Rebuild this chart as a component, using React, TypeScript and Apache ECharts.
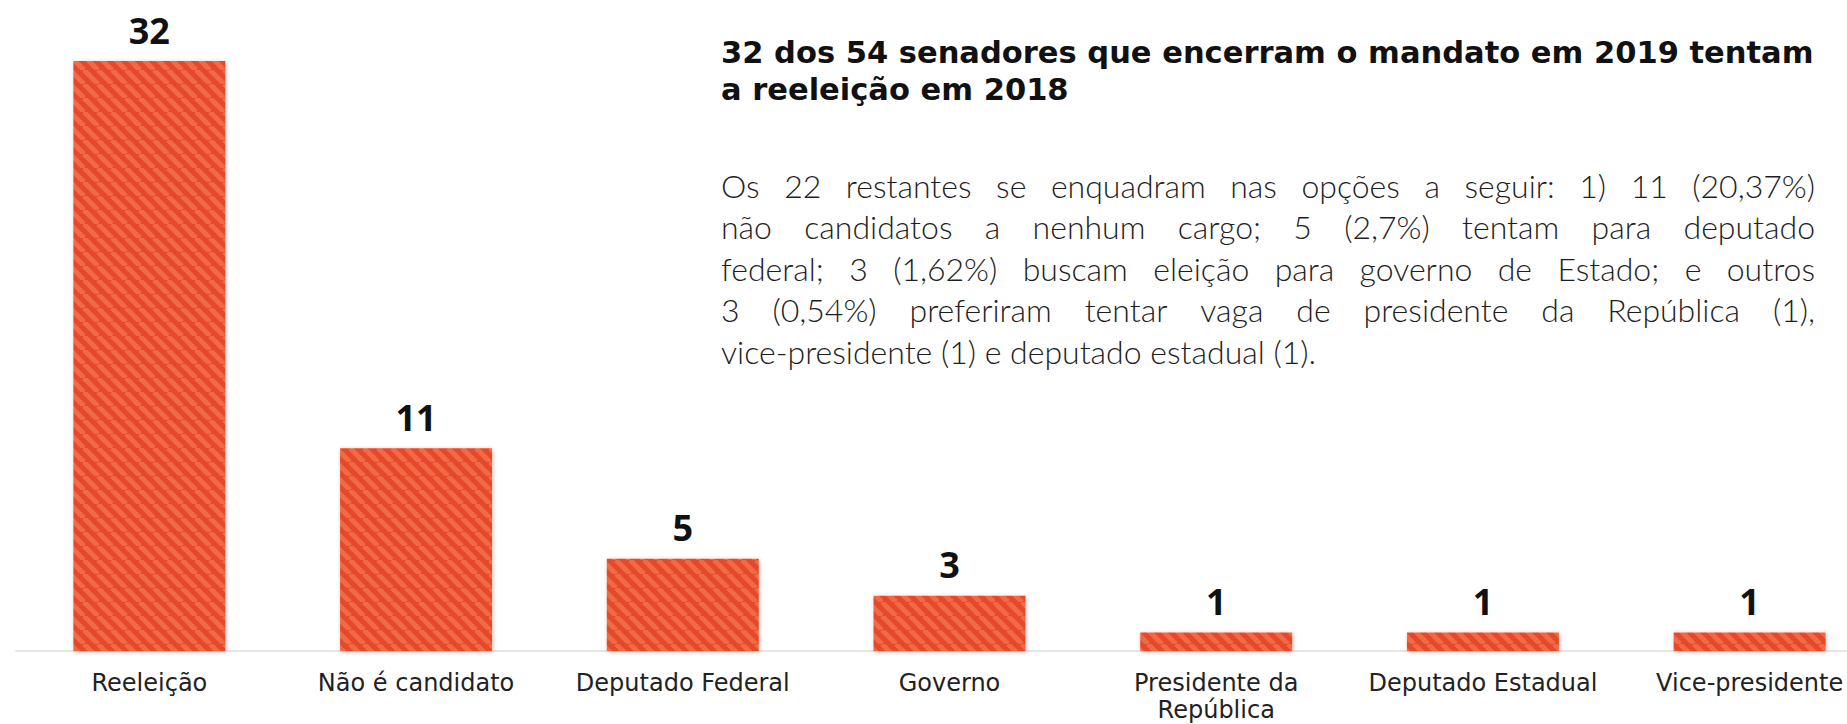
import React, { useEffect, useRef } from "react";
import * as echarts from "echarts";

const categories = [
  "Reeleição",
  "Não é candidato",
  "Deputado Federal",
  "Governo",
  "Presidente da\nRepública",
  "Deputado Estadual",
  "Vice-presidente",
];
const values = [32, 11, 5, 3, 1, 1, 1];

const titleLines = [
  "32 dos 54 senadores que encerram o mandato em 2019 tentam",
  "a reeleição em 2018",
];
const bodyLines = [
  "Os 22 restantes se enquadram nas opções a seguir: 1) 11 (20,37%)",
  "não candidatos a nenhum cargo; 5 (2,7%) tentam para deputado",
  "federal; 3 (1,62%) buscam eleição para governo de Estado; e outros",
  "3 (0,54%) preferiram tentar vaga de presidente da República (1),",
  "vice-presidente (1) e deputado estadual (1).",
];

const BODY_FAMILY = "Lato";
const BODY_WEIGHT = 300;
const TITLE_FAMILY = "DejaVu Sans";

function makeStripe(s: number): HTMLCanvasElement {
  const c = document.createElement("canvas");
  c.width = s;
  c.height = s;
  const ctx = c.getContext("2d")!;
  ctx.fillStyle = "#E54A29";
  ctx.fillRect(0, 0, s, s);
  ctx.strokeStyle = "#EE6A48";
  ctx.lineWidth = 5;
  for (let k = -1; k <= 1; k++) {
    ctx.beginPath();
    ctx.moveTo(k * s, 0);
    ctx.lineTo(k * s + s, s);
    ctx.stroke();
  }
  return c;
}

function measurer(font: string) {
  const c = document.createElement("canvas");
  const ctx = c.getContext("2d")!;
  ctx.font = font;
  return (t: string) => ctx.measureText(t).width;
}

function buildBody(): any[] {
  const left = 721;
  const W = 1094;
  const ys = [185, 226, 268, 309, 351];
  const base = 30;
  const m0 = measurer(`${BODY_WEIGHT} ${base}px "${BODY_FAMILY}"`);
  let size = (base * W) / m0(bodyLines[2]);
  size = Math.max(24, Math.min(32, size));
  const m = measurer(`${BODY_WEIGHT} ${size}px "${BODY_FAMILY}"`);
  const out: any[] = [];
  bodyLines.forEach((line, i) => {
    const words = line.split(" ");
    const widths = words.map((w) => m(w));
    const sum = widths.reduce((a, b) => a + b, 0);
    const last = i === bodyLines.length - 1;
    const gap = last ? m(" ") : (W - sum) / (words.length - 1);
    let x = left;
    words.forEach((w, j) => {
      out.push({
        type: "text",
        x,
        y: ys[i],
        silent: true,
        style: {
          text: w,
          fill: "#1e1e1e",
          fontFamily: BODY_FAMILY,
          fontSize: size,
          fontWeight: BODY_WEIGHT,
          lineHeight: 36,
          textAlign: "left",
          textVerticalAlign: "middle",
        },
      });
      x += widths[j] + gap;
    });
  });
  return out;
}

function buildTitle(): any[] {
  const base = 27;
  const m0 = measurer(`bold ${base}px "${TITLE_FAMILY}"`);
  let size = (base * 1093) / m0(titleLines[0]);
  size = Math.max(24, Math.min(31, size));
  const ys = [52, 89];
  return titleLines.map((t, i) => ({
    type: "text",
    x: 721,
    y: ys[i],
    silent: true,
    style: {
      text: t,
      fill: "#111",
      fontFamily: TITLE_FAMILY,
      fontSize: size,
      fontWeight: "bold",
      lineHeight: 33,
      textAlign: "left",
      textVerticalAlign: "middle",
    },
  }));
}

export default function App() {
  const ref = useRef<HTMLDivElement>(null);
  useEffect(() => {
    if (!ref.current) return;
    const chart = echarts.init(ref.current, null, { renderer: "svg" });
    const stripe = makeStripe(14);
    const graphics: any[] = [...buildTitle(), ...buildBody()];

    chart.setOption({
      animation: false,
      backgroundColor: "#ffffff",
      grid: {
        left: 16,
        width: 1867,
        top: 61,
        bottom: 73,
        containLabel: false,
        outerBoundsMode: "none",
      } as any,
      xAxis: {
        type: "category",
        data: categories,
        axisLine: { show: true, lineStyle: { color: "#e6e6e6", width: 2 } },
        axisTick: { show: false },
        axisLabel: {
          interval: 0,
          margin: 18,
          color: "#222",
          fontFamily: "DejaVu Sans",
          fontSize: 24,
          lineHeight: 27,
        },
      },
      yAxis: {
        type: "value",
        min: 0,
        max: 32,
        show: false,
        splitLine: { show: false },
      },
      series: [
        {
          type: "bar",
          data: values,
          barWidth: 152,
          itemStyle: {
            color: { image: stripe, repeat: "repeat", imageWidth: 14, imageHeight: 14 } as any,
            shadowBlur: 4,
            shadowColor: "rgba(0,0,0,0.25)",
            shadowOffsetX: 1,
            shadowOffsetY: 1,
          },
          label: {
            show: true,
            position: "top",
            distance: 13,
            color: "#111",
            fontFamily: "Open Sans",
            fontWeight: "bold",
            fontSize: 36,
            lineHeight: 36,
          },
        },
      ],
      graphic: graphics,
    });
    return () => chart.dispose();
  }, []);
  return (
    <div
      ref={ref}
      style={{ position: "fixed", left: 0, top: 0, width: 1847, height: 724 }}
    />
  );
}
